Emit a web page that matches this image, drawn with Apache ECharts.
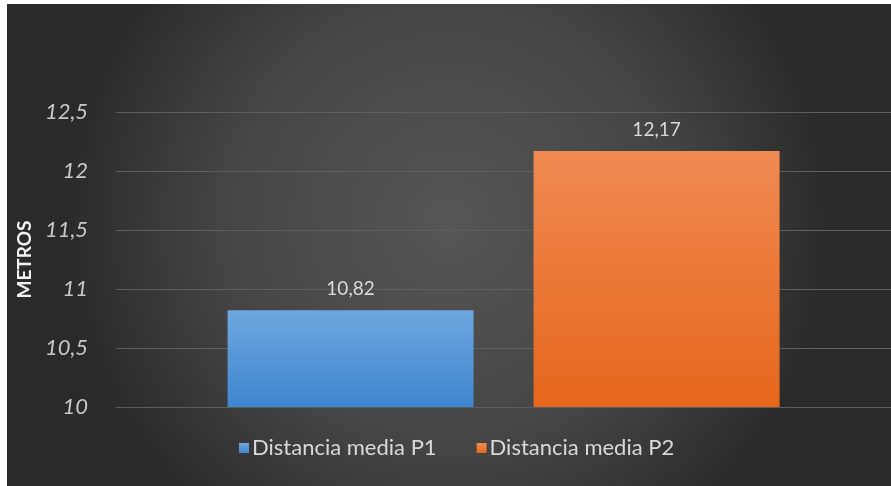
<!DOCTYPE html>
<html>
<head>
<meta charset="utf-8">
<script src="https://cdn.jsdelivr.net/npm/echarts@6/dist/echarts.min.js"></script>
<style>
  html, body { margin: 0; padding: 0; background: #ffffff; width: 891px; height: 486px; overflow: hidden; }
  #chart { position: absolute; left: 7px; top: 4px; width: 884px; height: 482px; }
</style>
</head>
<body>
<div id="chart"></div>
<script>
// Mean distance per measurement set (metres)
const categories = ['Distancia media'];
const seriesNames = ['Distancia media P1', 'Distancia media P2'];
const valuesP1 = [10.82];
const valuesP2 = [12.17];
const yTicks = { min: 10, max: 12.5, step: 0.5 };

const fmt = v => String(v).replace('.', ',');
const font = 'Lato, "Open Sans", sans-serif';

const chart = echarts.init(document.getElementById('chart'), null, { renderer: 'canvas' });

chart.setOption({
  backgroundColor: {
    type: 'radial', x: 0.5, y: 0.45, r: 0.8,
    colorStops: [
      { offset: 0, color: '#565656' },
      { offset: 0.6, color: '#444444' },
      { offset: 1, color: '#2a2a2a' }
    ]
  },
  textStyle: { fontFamily: font },
  grid: { left: 98, right: -24, top: 108, bottom: 79 },
  legend: {
    bottom: 22,
    left: 227,
    itemWidth: 10, itemHeight: 10, itemGap: 40,
    icon: 'rect',
    textStyle: { color: '#d9d9d9', fontSize: 22, fontFamily: font, padding: [0, 0, 0, -2] },
    data: seriesNames
  },
  xAxis: {
    type: 'category',
    data: categories,
    axisLine: { show: true, lineStyle: { color: '#5c5c5c' } },
    axisTick: { show: false },
    axisLabel: { show: false }
  },
  yAxis: {
    type: 'value',
    min: yTicks.min, max: yTicks.max, interval: yTicks.step,
    name: 'METROS',
    nameLocation: 'middle',
    nameGap: 64,
    nameRotate: 90,
    nameTextStyle: { color: '#f2f2f2', fontSize: 19, fontWeight: 'bold', fontFamily: font },
    axisLine: { show: false },
    axisTick: { show: false },
    axisLabel: {
      color: '#c8c8c8', fontSize: 22, fontStyle: 'italic', margin: 28,
      fontFamily: font, formatter: fmt
    },
    splitLine: { lineStyle: { color: '#5e5e5e', width: 1 } }
  },
  series: [
    {
      name: seriesNames[0],
      type: 'bar',
      data: valuesP1,
      barWidth: 246,
      barGap: '24.4%',
      itemStyle: {
        color: {
          type: 'linear', x: 0, y: 0, x2: 0, y2: 1,
          colorStops: [ { offset: 0, color: '#6fa7de' }, { offset: 1, color: '#3d86d0' } ]
        }
      },
      label: {
        show: true, position: 'top', distance: 12,
        color: '#d9d9d9', fontSize: 19, fontFamily: font, formatter: p => fmt(p.value)
      }
    },
    {
      name: seriesNames[1],
      type: 'bar',
      data: valuesP2,
      barWidth: 246,
      itemStyle: {
        color: {
          type: 'linear', x: 0, y: 0, x2: 0, y2: 1,
          colorStops: [ { offset: 0, color: '#f08a52' }, { offset: 1, color: '#e6661b' } ]
        }
      },
      label: {
        show: true, position: 'top', distance: 12,
        color: '#d9d9d9', fontSize: 19, fontFamily: font, formatter: p => fmt(p.value)
      }
    }
  ]
});
</script>
</body>
</html>
